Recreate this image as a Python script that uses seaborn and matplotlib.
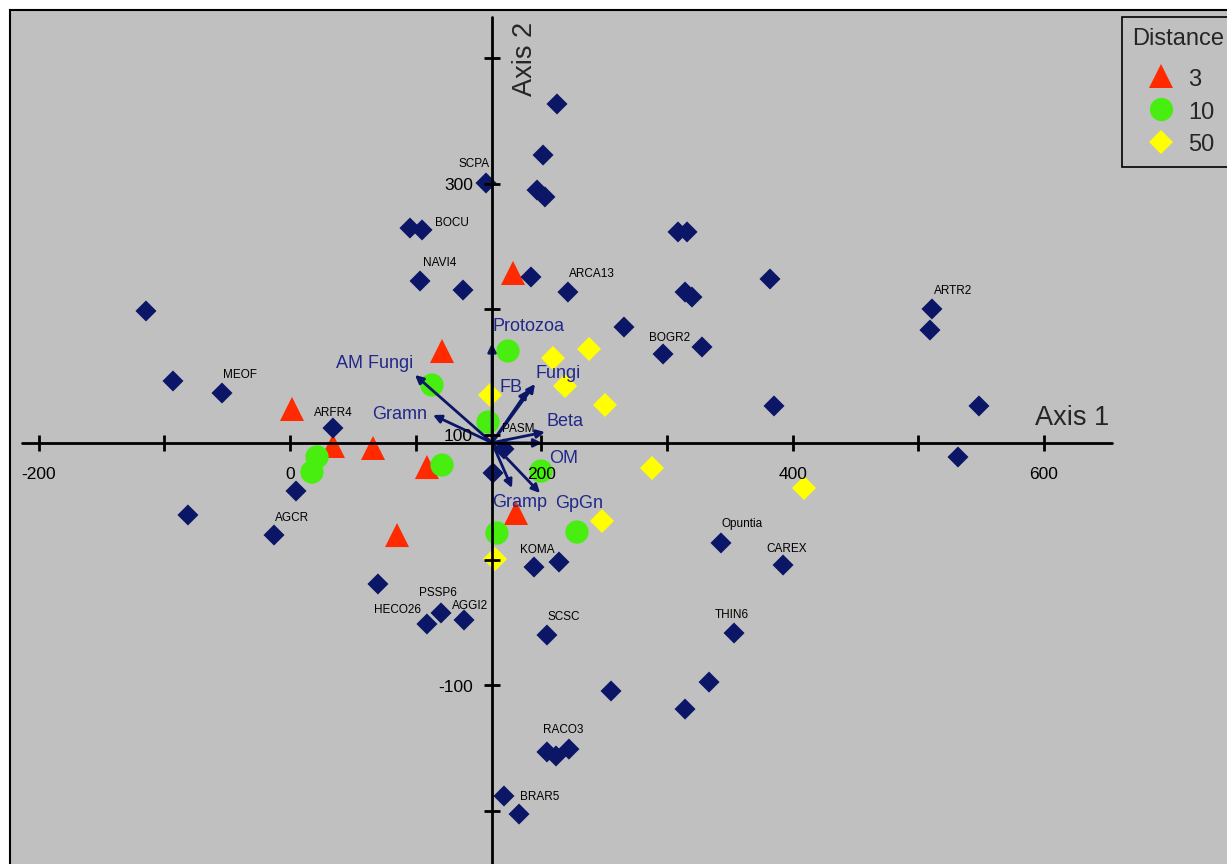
import matplotlib
matplotlib.use('Agg')
import matplotlib.pyplot as plt
import pandas as pd
import seaborn as sns

# where the two ordination axes cross
X0, Y0 = 160.8, 93.5

# species scores (navy diamonds), '' = no label
sp_x = [212.5, 201.4, 196.6, 202.9, 156.0, 95.5, 105.1, 103.5, 137.7, 191.8,
        221.2, -114.6, -93.1, -54.1, 34.2, 4.8, -81.2, -12.7, 70.0, 109.0,
        120.2, 138.5, 161.6, 170.3, 194.2, 214.1, 204.5, 255.5, 204.5, 211.7,
        222.0, 170.3, 182.3, 265.8, 296.9, 327.9, 308.8, 316.0, 314.4, 319.9,
        382.0, 385.2, 343.0, 392.4, 353.4, 333.5, 314.4, 510.9, 509.3, 548.3,
        531.6]
sp_y = [363.5, 322.8, 294.9, 289.4, 300.5, 264.6, 263.1, 222.4, 215.2, 225.6,
        213.6, 198.5, 142.7, 133.1, 105.2, 55.0, 35.9, 19.9, -19.1, -51.0,
        -42.2, -47.8, 69.4, 88.5, -5.6, -1.6, -59.8, -104.4, -153.0, -156.2,
        -150.7, -188.1, -202.5, 185.7, 164.2, 169.8, 261.5, 261.5, 213.6, 209.6,
        224.0, 122.8, 13.6, -4.0, -58.2, -97.3, -118.8, 200.1, 183.3, 122.8,
        82.1]
sp_name = ['', '', '', '', 'SCPA', '', 'BOCU', 'NAVI4', '', '',
           'ARCA13', '', '', 'MEOF', 'ARFR4', '', '', 'AGCR', '', 'HECO26',
           'PSSP6', 'AGGI2', '', 'PASM', 'KOMA', '', 'SCSC', '', 'RACO3', '',
           '', 'BRAR5', '', '', 'BOGR2', '', '', '', '', '',
           '', '', 'Opuntia', 'CAREX', 'THIN6', '', '', 'ARTR2', '', '',
           '']

# sample units by distance class
site_x = [177.5, 121.0, 1.6, 34.2, 66.1, 109.0, 179.9, 85.2,
          173.5, 113.0, 157.6, 121.0, 199.8, 164.7, 228.4, 21.5, 17.5,
          209.3, 238.0, 159.2, 218.9, 250.7, 288.1, 409.1, 248.3, 163.2]
site_y = [228.8, 166.6, 120.4, 90.9, 89.3, 74.1, 37.5, 19.9,
          166.6, 139.5, 110.0, 75.7, 70.9, 21.5, 22.3, 82.1, 70.1,
          161.0, 168.2, 131.5, 138.7, 123.6, 73.3, 57.4, 31.1, 0.8]
site_dist = ['3'] * 8 + ['10'] * 9 + ['50'] * 9

# biplot vectors (tips)
vec_names = ['Protozoa', 'AM Fungi', 'Gramn', 'FB', 'Fungi', 'Beta', 'OM', 'Gramp', 'GpGn']
vec_x = [160.8, 99.5, 113.8, 189.4, 195.0, 202.9, 200.6, 176.7, 199.0]
vec_y = [172.6, 147.5, 115.6, 135.5, 140.3, 102.0, 93.3, 57.4, 53.4]

x_ticks = [-200, -100, 0, 100, 200, 300, 400, 500, 600]
x_ticklabels = [-200, 0, 200, 400, 600]
y_ticks = [-200, -100, 0, 100, 200, 300, 400]
y_ticklabels = [300, 100, -100]

# label offsets in pixels (dx, dy)
SP_OFFSET = {
    'SCPA': (-12, 21), 'BOCU': (30, 8), 'NAVI4': (20, 19), 'ARCA13': (24, 20),
    'MEOF': (18, 20), 'ARFR4': (0, 17), 'AGCR': (18, 19), 'HECO26': (-29, 15),
    'PSSP6': (-3, 21), 'AGGI2': (6, 15), 'PASM': (14, 21), 'KOMA': (3, 19),
    'SCSC': (17, 20), 'RACO3': (16, 23), 'BRAR5': (36, 1), 'BOGR2': (7, 18),
    'Opuntia': (21, 20), 'CAREX': (4, 18), 'THIN6': (-2, 20), 'ARTR2': (21, 19),
}
VEC_OFFSET = {
    'Protozoa': (0, 19, 'left'), 'AM Fungi': (-2, 13, 'right'),
    'Gramn': (-6, 2, 'right'), 'FB': (-17, 5, 'center'),
    'Fungi': (0, 12, 'left'), 'Beta': (2, 13, 'left'),
    'OM': (7, -14, 'left'), 'Gramp': (8, -13, 'center'),
    'GpGn': (15, -8, 'left'),
}

NAVY = '#0b1667'
VEC_TXT = '#22288a'
BG = '#c0c0c0'

sns.set_theme(style='white')
plt.rcParams['font.family'] = ['Liberation Sans', 'DejaVu Sans']

fig = plt.figure(figsize=(12.27, 8.64), dpi=100, facecolor='white')
ax = fig.add_axes([10 / 1227, 0, 1217 / 1227, 854 / 864])
ax.set_facecolor(BG)
ax.set_xlim(-222.8, 745.7)
ax.set_ylim(-242.3, 438.4)

sites = pd.DataFrame({'x': site_x, 'y': site_y, 'Distance': site_dist})
sns.scatterplot(data=sites, x='x', y='y', hue='Distance', style='Distance',
                size='Distance',
                palette={'3': '#ff2a00', '10': '#48ee10', '50': '#ffff00'},
                markers={'3': '^', '10': 'o', '50': 'D'},
                sizes={'3': 300, '10': 280, '50': 150},
                linewidth=0, edgecolor='none', ax=ax, zorder=2, legend='full')

species = pd.DataFrame({'x': sp_x, 'y': sp_y})
sns.scatterplot(data=species, x='x', y='y', marker='D', color=NAVY, s=115,
                linewidth=0, edgecolor='none', ax=ax, zorder=3, legend=False)

for name, x, y in zip(sp_name, sp_x, sp_y):
    if not name:
        continue
    dx, dy = SP_OFFSET[name]
    ax.annotate(name, (x, y), xytext=(dx, dy), textcoords='offset pixels',
                ha='center', va='center_baseline', fontsize=8.5, color='black', zorder=6)

# vectors
for name, x, y in zip(vec_names, vec_x, vec_y):
    ax.annotate('', xy=(x, y), xytext=(X0, Y0),
                arrowprops=dict(arrowstyle='-|>', color=NAVY, lw=2.0,
                                mutation_scale=12, shrinkA=0, shrinkB=0),
                zorder=4)
    dx, dy, ha = VEC_OFFSET[name]
    ax.annotate(name, (x, y), xytext=(dx, dy), textcoords='offset pixels',
                ha=ha, va='center_baseline', fontsize=13, color=VEC_TXT, zorder=6)

# axes through the centroid
ax.plot([-213, 654], [Y0, Y0], color='black', lw=2.0, zorder=5)
ax.plot([X0, X0], [-260, 432.8], color='black', lw=2.0, zorder=5)
ax.plot(x_ticks, [Y0] * len(x_ticks), ls='none', marker='|', ms=11, mew=2,
        color='black', zorder=5)
ax.plot([X0] * len(y_ticks), y_ticks, ls='none', marker='_', ms=11, mew=2,
        color='black', zorder=5)
for v in x_ticklabels:
    ax.annotate(str(v), (v, Y0), xytext=(0, -36), textcoords='offset pixels',
                ha='center', va='baseline', fontsize=12.5, color='black', zorder=6)
for v in y_ticklabels:
    ax.annotate(str(v), (X0, v), xytext=(-19, -6.5), textcoords='offset pixels',
                ha='right', va='baseline', fontsize=12.5, color='black', zorder=6)

ax.text(622.4, 107.6, 'Axis 1', ha='center', va='baseline', fontsize=19.5, zorder=6)
ax.text(197.4, 399.4, 'Axis 2', ha='right', va='center', rotation=90,
        fontsize=19.5, zorder=6)

handles, labels = ax.get_legend_handles_labels()
leg = ax.legend(handles, labels, title='Distance', loc='upper left',
                bbox_to_anchor=(1122 / 1227, (864 - 17) / 864),
                bbox_transform=fig.transFigure, borderaxespad=0,
                fontsize=17, title_fontsize=17, frameon=True, fancybox=False,
                facecolor=BG, edgecolor='black', framealpha=1,
                borderpad=0.45, labelspacing=0.34, handlelength=1.6,
                handleheight=1.15, handletextpad=0.35, alignment='center')
leg.get_frame().set_linewidth(1.2)
# a bit more room between the title and the entries
leg._legend_box.sep = 12

ax.set_xlabel('')
ax.set_ylabel('')
ax.set_xticks([])
ax.set_yticks([])
for side in ['right', 'bottom']:
    ax.spines[side].set_visible(False)
for side in ['top', 'left']:
    ax.spines[side].set_visible(True)
    ax.spines[side].set_color('black')
    ax.spines[side].set_linewidth(1.5)

fig.savefig('out.png', dpi=100, facecolor='white')
